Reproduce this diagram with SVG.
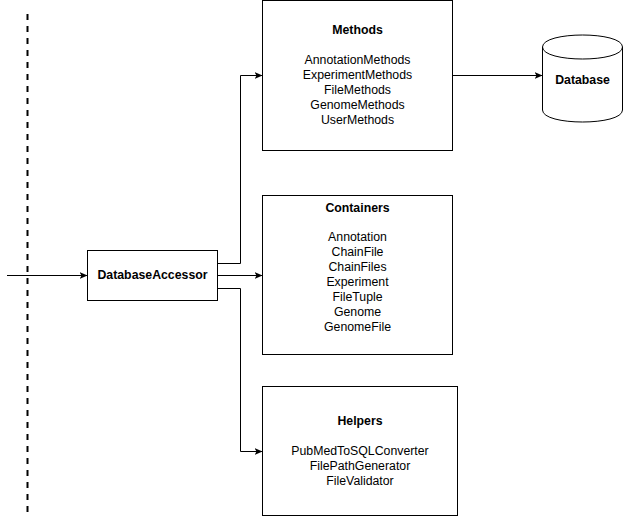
<svg xmlns="http://www.w3.org/2000/svg" width="624" height="520" viewBox="0 0 624 520">
<defs>
<marker id="arr" markerWidth="10" markerHeight="8" refX="8" refY="3.5" orient="auto" markerUnits="userSpaceOnUse">
<path d="M0,0 L8,3.5 L0,7 L2,3.5 Z" fill="#000"/>
</marker>
<style>
.box{fill:#fff;stroke:#000;stroke-width:1}
.t{font-family:"Liberation Sans",Arial,sans-serif;font-size:12.3px;fill:#000;text-anchor:middle}
.b{font-weight:bold}
.c{fill:none;stroke:#000;stroke-width:1}
</style>
</defs>
<rect width="624" height="520" fill="#fff"/>
<line x1="27.5" y1="14" x2="27.5" y2="515" stroke="#000" stroke-width="2" stroke-dasharray="6 6"/>
<g id="connectors">
<path class="c" d="M7,275.5 L87.5,275.5" marker-end="url(#arr)"/>
<path class="c" d="M217.5,263.5 L240.5,263.5 L240.5,75.5 L262.5,75.5" marker-end="url(#arr)"/>
<path class="c" d="M217.5,275.5 L262.5,275.5" marker-end="url(#arr)"/>
<path class="c" d="M217.5,288.5 L240.5,288.5 L240.5,451.5 L262.5,451.5" marker-end="url(#arr)"/>
<path class="c" d="M452.5,75.5 L542.5,75.5" marker-end="url(#arr)"/>
</g>
<g id="accessor">
<rect class="box" x="87.5" y="250.5" width="130" height="50"/>
<text class="t b" x="152.5" y="279">DatabaseAccessor</text>
</g>
<g id="methods">
<rect class="box" x="262.5" y="0.5" width="190" height="150"/>
<text class="t b" x="357.5" y="33.5">Methods</text>
<text class="t" x="357.5" y="63.5">AnnotationMethods</text>
<text class="t" x="357.5" y="78.5">ExperimentMethods</text>
<text class="t" x="357.5" y="93.5">FileMethods</text>
<text class="t" x="357.5" y="108.5">GenomeMethods</text>
<text class="t" x="357.5" y="123.5">UserMethods</text>
</g>
<g id="containers">
<rect class="box" x="262.5" y="195.5" width="190" height="159"/>
<text class="t b" x="357.5" y="211.5">Containers</text>
<text class="t" x="357.5" y="241">Annotation</text>
<text class="t" x="357.5" y="256">ChainFile</text>
<text class="t" x="357.5" y="271">ChainFiles</text>
<text class="t" x="357.5" y="286">Experiment</text>
<text class="t" x="357.5" y="301">FileTuple</text>
<text class="t" x="357.5" y="316">Genome</text>
<text class="t" x="357.5" y="331">GenomeFile</text>
</g>
<g id="helpers">
<rect class="box" x="262.5" y="386.5" width="195" height="129"/>
<text class="t b" x="360" y="425">Helpers</text>
<text class="t" x="360" y="454.5">PubMedToSQLConverter</text>
<text class="t" x="360" y="469.5">FilePathGenerator</text>
<text class="t" x="360" y="484.5">FileValidator</text>
</g>
<g id="database">
<path class="box" d="M542.5,47 C542.5,31 622.5,31 622.5,47 L622.5,110 C622.5,126 542.5,126 542.5,110 Z"/>
<path class="c" d="M542.5,47 C542.5,63 622.5,63 622.5,47"/>
<text class="t b" x="582.5" y="84">Database</text>
</g>
</svg>
